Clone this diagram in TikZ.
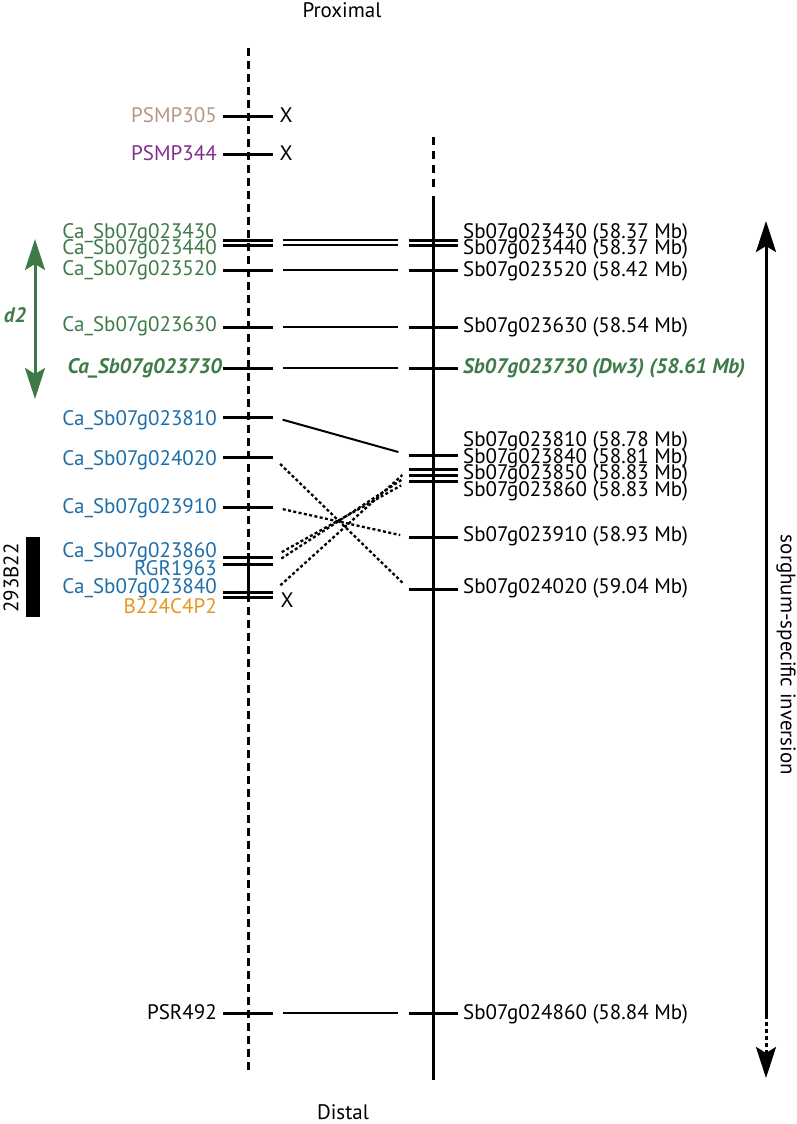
\documentclass[tikz,border=0pt]{standalone}
\usepackage{fontspec}
\setmainfont{PT Sans}
\usetikzlibrary{arrows.meta}
\definecolor{mgreen}{RGB}{62,122,72}
\definecolor{mblue}{RGB}{31,110,168}
\definecolor{mtan}{RGB}{181,152,132}
\definecolor{mpurple}{RGB}{128,48,138}
\definecolor{morange}{RGB}{226,152,34}
\newcommand{\fsz}{\fontsize{21}{21}\selectfont}
\tikzset{
  chrom/.style={line width=3pt},
  dashchrom/.style={line width=3pt, dash pattern=on 8pt off 5pt},
  rdash/.style={line width=3pt, dash pattern=on 8pt off 6pt},
  ltick/.style={rectangle, fill=black, minimum width=50pt, minimum height=3pt, inner sep=0pt, outer sep=0pt},
  rtick/.style={rectangle, fill=black, minimum width=49pt, minimum height=3pt, inner sep=0pt, outer sep=0pt},
  link/.style={line width=1.3pt, shorten <=10pt, shorten >=11pt},
  slink/.style={line width=2pt, shorten <=10pt, shorten >=11pt},
  dlink/.style={line width=2.3pt, dash pattern=on 3pt off 2.4pt, shorten <=10pt, shorten >=9pt},
  llab/.style={anchor=base east, inner sep=0pt},
  rlab/.style={anchor=base west, inner sep=0pt},
  xm/.style={anchor=base, inner sep=0pt},
  bi/.style={font=\fsz\bfseries\itshape},
  bighead/.tip={Stealth[length=31pt, width=20pt, inset=6pt]},
}
\begin{document}
\begin{tikzpicture}[x=1pt,y=-1pt, font=\fsz]
\useasboundingbox (0,0) rectangle (797,1124);
% titles
\node[anchor=base, inner sep=0pt] (prox) at (342,18) {Proximal};
\node[anchor=base, inner sep=0pt] (dist) at (343,1119) {Distal};
% chromosome lines
\coordinate (Ltop) at (248,48);
\coordinate (Lbot) at (248,1073);
\coordinate (Ls1) at (248,553);
\coordinate (Ls2) at (248,598);
\draw[dashchrom] (Ltop) -- (Lbot);
\draw[chrom] (Ls1) -- (Ls2);
\coordinate (Rtop) at (433,137);
\coordinate (Rmid) at (433,187);
\coordinate (Rs) at (433,196);
\coordinate (Rbot) at (433,1080);
\draw[rdash] (Rtop) -- (Rmid);
\draw[chrom] (Rs) -- (Rbot);
% left ticks
\node[ltick] (l305) at (248,116) {};
\node[ltick] (l344) at (248,154) {};
\node[ltick] (l3430) at (248,240) {};
\node[ltick] (l3440) at (248,245) {};
\node[ltick] (l3520) at (248,270) {};
\node[ltick] (l3630) at (248,327) {};
\node[ltick] (l3730) at (248,368) {};
\node[ltick] (l3810) at (248,417) {};
\node[ltick] (l4020) at (248,457) {};
\node[ltick] (l3910) at (248,507) {};
\node[ltick] (l3860) at (248,557) {};
\node[ltick] (lrgr) at (248,564) {};
\node[ltick] (l3840) at (248,592) {};
\node[ltick] (lb224) at (248,597) {};
\node[ltick] (l492) at (248,1013) {};
% right ticks
\node[rtick] (r3430) at (433.5,240) {};
\node[rtick] (r3440) at (433.5,245) {};
\node[rtick] (r3520) at (433.5,270) {};
\node[rtick] (r3630) at (433.5,327) {};
\node[rtick] (r3730) at (433.5,368) {};
\node[rtick] (r3810) at (433.5,455) {};
\node[rtick] (r3840) at (433.5,469) {};
\node[rtick] (r3850) at (433.5,475) {};
\node[rtick] (r3860) at (433.5,481) {};
\node[rtick] (r3910) at (433.5,537) {};
\node[rtick] (r4020) at (433.5,589) {};
\node[rtick] (r4860) at (433.5,1013) {};
% links
\draw[link] (l3430.east) -- (r3430.west);
\draw[link] (l3440.east) -- (r3440.west);
\draw[link] (l3520.east) -- (r3520.west);
\draw[link] (l3630.east) -- (r3630.west);
\draw[link] (l3730.east) -- (r3730.west);
\draw[link] (l492.east) -- (r4860.west);
\draw[slink] (l3810.east) -- (r3810.west);
\draw[dlink] (l4020.east) -- (r4020.west);
\draw[dlink] (l3910.east) -- (r3910.west);
\draw[dlink] (l3860.east) -- (r3860.west);
\draw[dlink] (lrgr.east) -- (r3850.west);
\draw[dlink] (l3840.east) -- (r3840.west);
% X marks
\node[xm] (x305) at (286,122) {X};
\node[xm] (x344) at (286,160) {X};
\node[xm] (xb224) at (287,607) {X};
% left labels
\node[llab, mtan] (t305) at (217,122) {PSMP305};
\node[llab, mpurple] (t344) at (217,160) {PSMP344};
\node[llab, mgreen] (t3430) at (217,238) {Ca\_Sb07g023430};
\node[llab, mgreen] (t3440) at (217,254) {Ca\_Sb07g023440};
\node[llab, mgreen] (t3520) at (217,275) {Ca\_Sb07g023520};
\node[llab, mgreen] (t3630) at (217,331) {Ca\_Sb07g023630};
\node[llab, mgreen, bi] (t3730) at (222,373) {Ca\_Sb07g023730};
\node[llab, mblue] (t3810) at (217,425) {Ca\_Sb07g023810};
\node[llab, mblue] (t4020) at (217,465) {Ca\_Sb07g024020};
\node[llab, mblue] (t3910) at (217,513) {Ca\_Sb07g023910};
\node[llab, mblue] (t3860) at (217,557) {Ca\_Sb07g023860};
\node[llab, mblue] (trgr) at (217,575) {RGR1963};
\node[llab, mblue] (t3840) at (217,593) {Ca\_Sb07g023840};
\node[llab, morange] (tb224) at (217,613) {B224C4P2};
\node[llab] (t492) at (217,1019) {PSR492};
% right labels
\node[rlab] (s3430) at (463,238) {Sb07g023430 (58.37 Mb)};
\node[rlab] (s3440) at (463,254) {Sb07g023440 (58.37 Mb)};
\node[rlab] (s3520) at (463,276) {Sb07g023520 (58.42 Mb)};
\node[rlab] (s3630) at (463,332) {Sb07g023630 (58.54 Mb)};
\node[rlab, mgreen, bi] (s3730) at (463,373) {Sb07g023730 (Dw3) (58.61 Mb)};
\node[rlab] (s3810) at (463,446) {Sb07g023810 (58.78 Mb)};
\node[rlab] (s3840) at (463,463) {Sb07g023840 (58.81 Mb)};
\node[rlab] (s3850) at (463,479) {Sb07g023850 (58.83 Mb)};
\node[rlab] (s3860) at (463,496) {Sb07g023860 (58.83 Mb)};
\node[rlab] (s3910) at (463,541) {Sb07g023910 (58.93 Mb)};
\node[rlab] (s4020) at (463,593) {Sb07g024020 (59.04 Mb)};
\node[rlab] (s4860) at (463,1019) {Sb07g024860 (58.84 Mb)};
% d2 arrow
\coordinate (d2a) at (35,239);
\coordinate (d2b) at (35,399);
\draw[mgreen, line width=3pt, {bighead}-{bighead}] (d2a) -- (d2b);
\node[anchor=base, inner sep=0pt, mgreen, bi] (d2) at (15,322) {d2};
% BAC bar
\node[rectangle, fill=black, minimum width=14pt, minimum height=80pt, inner sep=0pt] (bac) at (33,577) {};
\node[rotate=90, inner sep=0pt] (baclab) at (11,578) {293B22};
% inversion arrow
\coordinate (inva) at (766,221);
\coordinate (invm) at (766,1015);
\coordinate (invb) at (766,1078);
\draw[line width=3pt, -{bighead}] (invm) -- (inva);
\draw[line width=3pt, dash pattern=on 4pt off 3pt, -{bighead}] (invm) -- (invb);
\node[rotate=-90, inner sep=0pt] (invlab) at (786,655) {sorghum-specific inversion};
\end{tikzpicture}
\end{document}
